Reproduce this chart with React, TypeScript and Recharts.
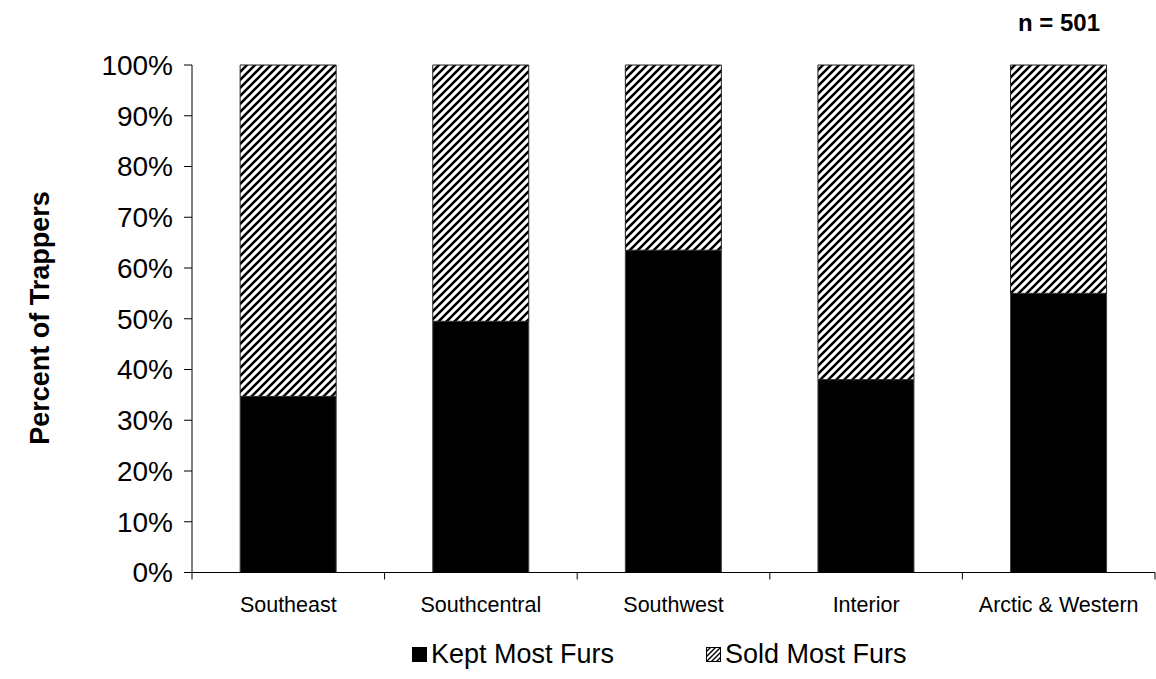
import React from "react";
import { BarChart, Bar, XAxis, YAxis, Legend } from "recharts";

const regions = ["Southeast", "Southcentral", "Southwest", "Interior", "Arctic & Western"];
const keptMost = [34.7, 49.5, 63.5, 38.0, 55.0];
const soldMost = [65.3, 50.5, 36.5, 62.0, 45.0];
const yTicks = [0, 10, 20, 30, 40, 50, 60, 70, 80, 90, 100];

const data = regions.map((name, i) => ({ name, kept: keptMost[i], sold: soldMost[i] }));

const FONT = "Arial, 'Liberation Sans', sans-serif";

const XTick = (props: any) => {
  const { x, y, payload, index } = props;
  const half = payload && payload.offset ? payload.offset : 96.4;
  return (
    <g>
      {index === 0 && <line x1={x - half} y1={y} x2={x - half} y2={y + 7} stroke="#000" />}
      <line x1={x + half} y1={y} x2={x + half} y2={y + 7} stroke="#000" />
      <text x={x} y={y + 39} textAnchor="middle" fontSize={21.5} fontFamily={FONT} fill="#000">
        {payload.value}
      </text>
    </g>
  );
};

const HatchSwatch = () => (
  <svg width={15} height={15} style={{ marginRight: 4 }}>
    <defs>
      <pattern id="hatchLegend" width={5} height={5} patternUnits="userSpaceOnUse">
        <path d="M0,5 L5,0 M-1,1 L1,-1 M4,6 L6,4" stroke="#000" strokeWidth={1.4} />
      </pattern>
    </defs>
    <rect x={0.5} y={0.5} width={14} height={14} fill="url(#hatchLegend)" stroke="#000" />
  </svg>
);

const renderLegend = () => (
  <div
    style={{
      display: "flex",
      justifyContent: "flex-start",
      alignItems: "center",
      paddingLeft: 412,
      fontFamily: FONT,
      fontSize: 27,
      color: "#000",
    }}
  >
    <div style={{ display: "flex", alignItems: "center", marginRight: 92 }}>
      <div style={{ width: 15, height: 15, background: "#000", marginRight: 4 }} />
      <span>Kept Most Furs</span>
    </div>
    <div style={{ display: "flex", alignItems: "center" }}>
      <HatchSwatch />
      <span>Sold Most Furs</span>
    </div>
  </div>
);

const App = () => {
  return (
    <div style={{ position: "fixed", left: 0, top: 0, width: 1156, height: 679, background: "#fff" }}>
      <BarChart
        width={1156}
        height={679}
        data={data}
        margin={{ top: 65, right: 1, left: 0, bottom: 66.5 }}
        barCategoryGap="25%"
      >
        <defs>
          <pattern id="hatch" width={8} height={8} patternUnits="userSpaceOnUse">
            <rect width={8} height={8} fill="#fff" />
            <path d="M0,8 L8,0 M-2,2 L2,-2 M6,10 L10,6" stroke="#000" strokeWidth={2.6} />
          </pattern>
        </defs>
        <XAxis
          dataKey="name"
          height={40}
          tickLine={false}
          tickSize={0}
          tickMargin={0}
          axisLine={{ stroke: "#000" }}
          tick={<XTick />}
          interval={0}
        />
        <YAxis
          width={192}
          domain={[0, 100]}
          ticks={yTicks}
          tickFormatter={(v: number) => `${v}%`}
          tickSize={8}
          tickMargin={11}
          axisLine={{ stroke: "#000" }}
          tickLine={{ stroke: "#000" }}
          tick={{ fontSize: 28, fill: "#000", fontFamily: FONT }}
          interval={0}
          label={{
            content: () => (
              <text
                x={40}
                y={318}
                transform="rotate(-90 40 318)"
                textAnchor="middle"
                dominantBaseline="central"
                fontSize={27}
                fontWeight="bold"
                fontFamily={FONT}
                fill="#000"
              >
                Percent of Trappers
              </text>
            ),
          }}
        />
        <Legend
          layout="horizontal"
          verticalAlign="middle"
          align="center"
          content={renderLegend}
          wrapperStyle={{ top: 639, left: 0, width: 1156, bottom: "auto", right: "auto" }}
        />
        <Bar dataKey="kept" stackId="a" fill="#000" stroke="#404040" strokeWidth={1} isAnimationActive={false} />
        <Bar dataKey="sold" stackId="a" fill="url(#hatch)" stroke="#202020" strokeWidth={1} isAnimationActive={false} />
        <text x={1100} y={22} textAnchor="end" dominantBaseline="central" fontSize={24} fontWeight="bold" fontFamily={FONT} fill="#000">
          n = 501
        </text>
      </BarChart>
    </div>
  );
};

export default App;
